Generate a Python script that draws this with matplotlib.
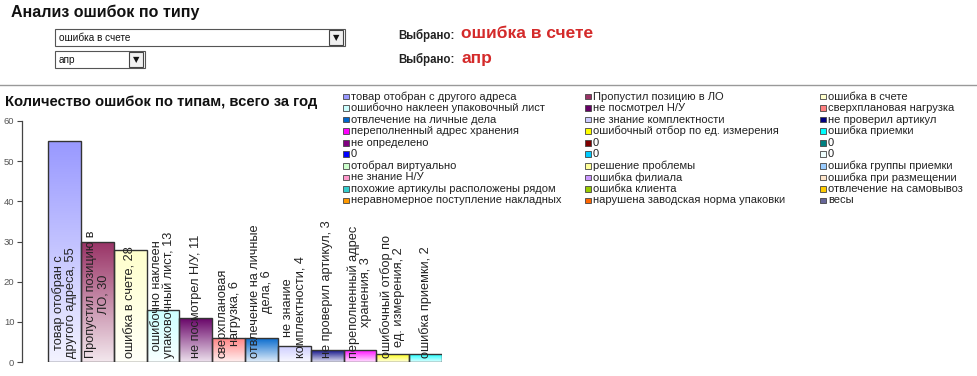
import matplotlib
matplotlib.use("Agg")
import matplotlib.pyplot as plt
import numpy as np
from matplotlib.colors import to_rgb
from matplotlib.patches import Rectangle

plt.rcParams['font.family'] = ['Liberation Sans', 'DejaVu Sans']

# ---- data ----
bar_labels = ["товар отобран с\nдругого адреса, 55", "Пропустил позицию в\nЛО, 30",
              "ошибка в счете, 28", "ошибочно наклеен\nупаковочный лист, 13",
              "не посмотрел Н/У, 11", "сверхплановая\nнагрузка, 6",
              "отвлечение на личные\nдела, 6", "не знание\nкомплектности, 4",
              "не проверил артикул, 3", "переполненный адрес\nхранения, 3",
              "ошибочный отбор по\nед. измерения, 2", "ошибка приемки, 2"]
bar_values = [55, 30, 28, 13, 11, 6, 6, 4, 3, 3, 2, 2]
bar_colors = ["#9999FF", "#993366", "#FFFFCC", "#CCFFFF", "#660066", "#FF8080",
              "#0066CC", "#CCCCFF", "#000080", "#FF00FF", "#FFFF00", "#00FFFF"]

legend_labels = [
    "товар отобран с другого адреса", "Пропустил позицию в ЛО", "ошибка в счете",
    "ошибочно наклеен упаковочный лист", "не посмотрел Н/У", "сверхплановая нагрузка",
    "отвлечение на личные дела", "не знание комплектности", "не проверил артикул",
    "переполненный адрес хранения", "ошибочный отбор по ед. измерения", "ошибка приемки",
    "не определено", "0", "0",
    "0", "0", "0",
    "отобрал виртуально", "решение проблемы", "ошибка группы приемки",
    "не знание Н/У", "ошибка филиала", "ошибка при размещении",
    "похожие артикулы расположены рядом", "ошибка клиента", "отвлечение на самовывоз",
    "неравномерное поступление накладных", "нарушена заводская норма упаковки", "весы"]
legend_colors = bar_colors + [
    "#800080", "#800000", "#008080",
    "#0000FF", "#00CCFF", "#EEFFFF",
    "#CCFFCC", "#FFFF99", "#99CCFF",
    "#FF99CC", "#CC99FF", "#FFE6CC",
    "#33CCCC", "#99CC00", "#FFCC00",
    "#FF9900", "#FF6600", "#666699"]

y_ticks = [0, 10, 20, 30, 40, 50, 60]

W, H = 977, 376
fig = plt.figure(figsize=(W / 100, H / 100), dpi=100)
fig.patch.set_facecolor("white")


def fx(x):
    return x / W


def fy(y):
    return 1 - y / H


# ---- header ----
fig.text(fx(11), fy(12), "Анализ ошибок по типу", fontsize=11.5, weight="bold",
         color="#111111", va="center", ha="left")

# dropdown boxes
def dropdown(x0, y0, x1, y1, text):
    fig.patches.append(Rectangle((fx(x0), fy(y1)), fx(x1 - x0), (y1 - y0) / H,
                                 transform=fig.transFigure, fill=True, facecolor="white",
                                 edgecolor="#555555", lw=0.8))
    bx0 = x1 - 16
    fig.patches.append(Rectangle((fx(bx0), fy(y1 - 1.5)), fx(14), (y1 - y0 - 3) / H,
                                 transform=fig.transFigure, facecolor="#f0f0f0",
                                 edgecolor="#444444", lw=0.8))
    fig.text(fx(bx0 + 7), fy((y0 + y1) / 2), "▼", fontsize=6, ha="center", va="center",
             color="#111111", family="DejaVu Sans")
    fig.text(fx(x0 + 4), fy((y0 + y1) / 2 + 0.5), text, fontsize=7.2, ha="left",
             va="center", color="#111111")


dropdown(55, 29, 345, 46, "ошибка в счете")
dropdown(55, 51, 145, 68, "апр")

fig.text(fx(398), fy(35), "Выбрано:", fontsize=8.3, weight="bold", color="#222222",
         va="center", ha="left")
fig.text(fx(461), fy(33), "ошибка в счете", fontsize=12.5, weight="bold",
         color="#d42a2a", va="center", ha="left")
fig.text(fx(398), fy(59), "Выбрано:", fontsize=8.3, weight="bold", color="#222222",
         va="center", ha="left")
fig.text(fx(461), fy(58), "апр", fontsize=12.5, weight="bold",
         color="#d42a2a", va="center", ha="left")

# separator line
fig.add_artist(plt.Line2D([0, 1], [fy(85), fy(85)], transform=fig.transFigure,
                          color="#999999", lw=1))

# chart title
fig.text(fx(5), fy(102), "Количество ошибок по типам, всего за год", fontsize=10.6,
         weight="bold", color="#111111", va="center", ha="left")

# ---- bar chart ----
ax_left, ax_right, ax_top, ax_bot = 22, 442, 121, 362
ax = fig.add_axes([fx(ax_left), fy(ax_bot), fx(ax_right - ax_left), (ax_bot - ax_top) / H])
ax.set_facecolor("none")
bar_w_px = (442 - 48) / len(bar_values)
left_units = (48 - ax_left) / bar_w_px
ax.set_xlim(-0.5 - left_units, len(bar_values) - 0.5)
ax.set_ylim(0, 60)

x = np.arange(len(bar_values))
bars = ax.bar(x, bar_values, width=1.0, color="none", edgecolor="#333333", lw=1.0,
              zorder=3)
for b, c in zip(bars, bar_colors):
    rgb = np.array(to_rgb(c))
    t = np.linspace(0, 1, 64)[:, None]  # 0 bottom -> 1 top
    mix = 0.12 + 0.88 * t
    grad = (rgb[None, :] * mix + np.ones(3)[None, :] * (1 - mix))[:, None, :]
    x0 = b.get_x()
    im = ax.imshow(grad, extent=[x0, x0 + b.get_width(), 0, b.get_height()],
                   origin="lower", aspect="auto", zorder=2, interpolation="bilinear")
    im.set_clip_path(b)

for i, lab in enumerate(bar_labels):
    ax.text(i, 0.9, lab, rotation=90, rotation_mode="anchor", ha="left", va="center",
            multialignment="center", fontsize=9.2, color="#222222", zorder=4,
            linespacing=1.0)

ax.set_xticks([])
ax.set_yticks(y_ticks)
ax.tick_params(axis="y", length=3.5, width=0.8, color="#444444", labelsize=6.8,
               labelcolor="#555555", pad=2)
for s in ["top", "right", "bottom"]:
    ax.spines[s].set_visible(False)
ax.spines["left"].set_color("#444444")
ax.spines["left"].set_linewidth(0.9)

# ---- legend (3 columns, 10 rows) ----
col_x = [343, 585, 820]
row_y0, row_dy = 96.5, 11.55
for k, (lab, col) in enumerate(zip(legend_labels, legend_colors)):
    r, cidx = divmod(k, 3)
    xm = col_x[cidx]
    ym = row_y0 + r * row_dy
    fig.patches.append(Rectangle((fx(xm), fy(ym + 2.8)), fx(5.6), 5.6 / H,
                                 transform=fig.transFigure, facecolor=col,
                                 edgecolor="#444444", lw=0.6))
    fig.text(fx(xm + 8), fy(ym), lab, fontsize=8.0, color="#222222",
             ha="left", va="center")

fig.savefig("out.png", dpi=100, facecolor="white")
